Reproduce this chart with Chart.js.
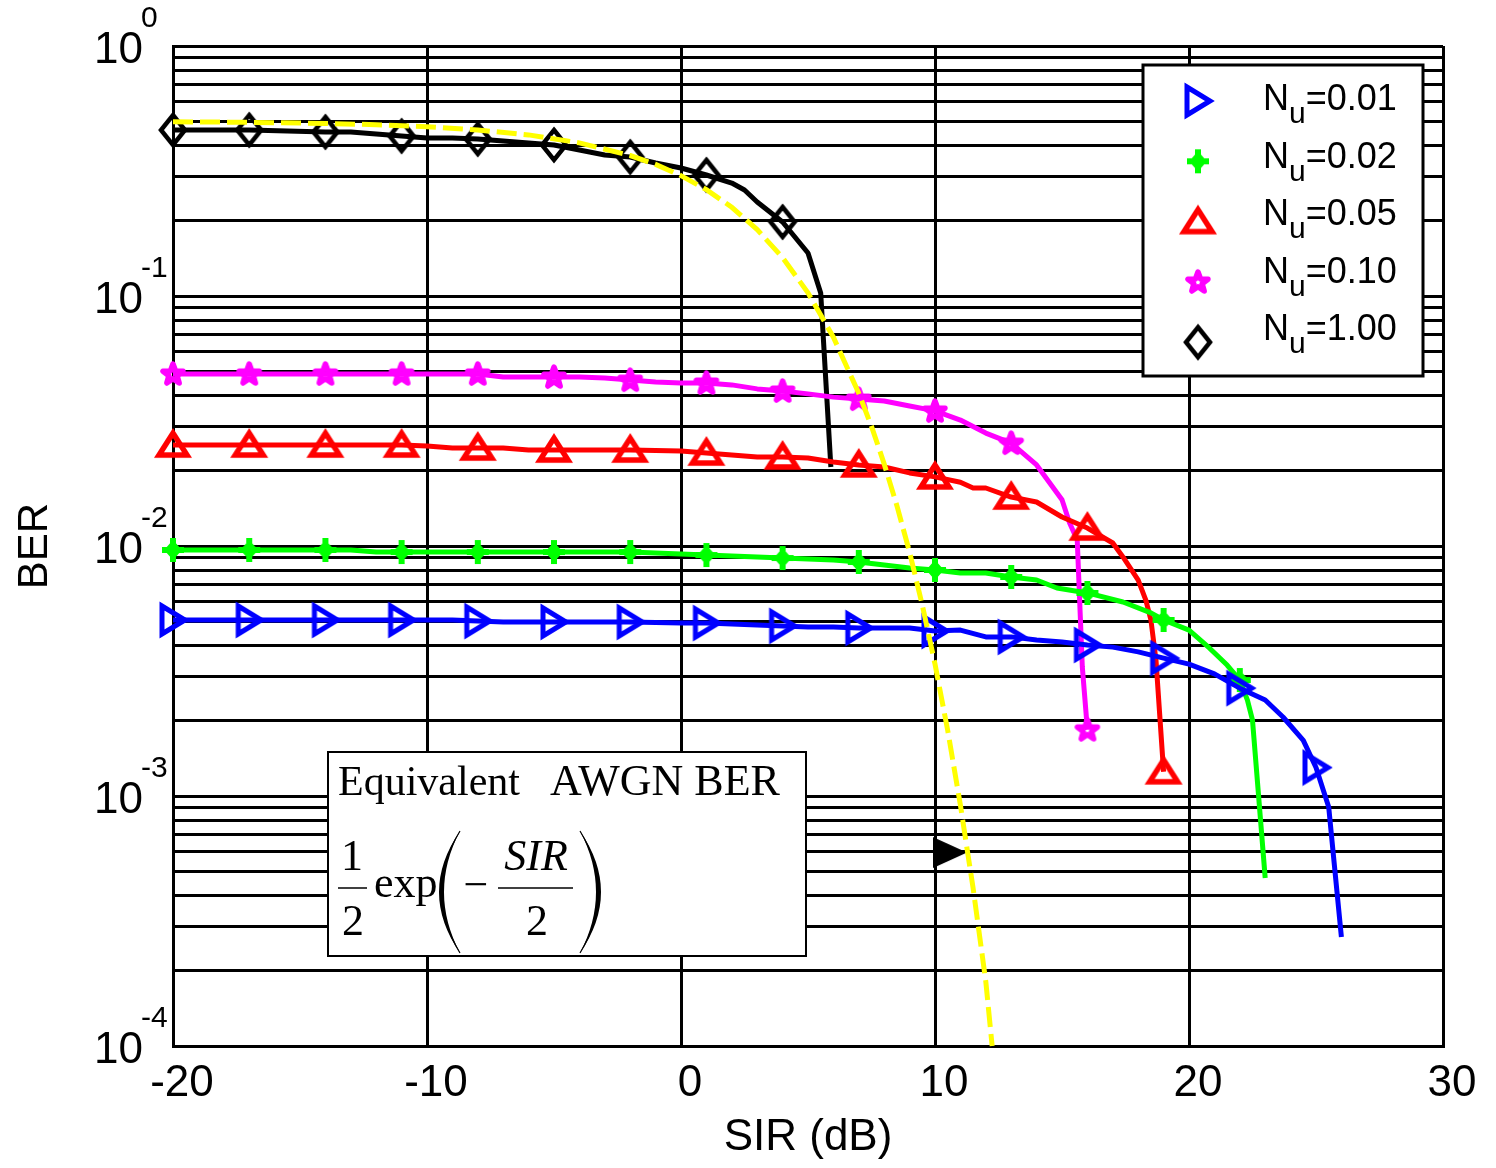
<!DOCTYPE html>
<html>
<head>
<meta charset="utf-8">
<script src="https://cdn.jsdelivr.net/npm/chart.js@4.4.1/dist/chart.umd.min.js"></script>
<style>
html,body{margin:0;padding:0;background:#fff;}
#wrap{width:1496px;height:1168px;position:relative;}
</style>
</head>
<body>
<div id="wrap"><canvas id="c" width="1496" height="1168"></canvas></div>
<script>
// ---------- data ----------
const snrNu001 = [-20,-17,-14,-11,-9,-8,-7,-5,-2,0,1,2,3,4,5,6,7,8,9,10,11,12,13,14,15,16,17,18,19,20,21,22,23,23.7,24.5,25,25.5,26];
const berNu001 = [0.00506,0.00506,0.00506,0.00506,0.00506,0.00501,0.00497,0.00497,0.00497,0.00492,0.00492,0.00488,0.00483,0.00479,0.00474,0.00474,0.0047,0.0047,0.0047,0.00457,0.00461,0.00433,0.00433,0.00421,0.00413,0.00402,0.00394,0.00377,0.00356,0.00337,0.00308,0.0027,0.00242,0.00207,0.00167,0.0013,0.000904,0.000273];

const snrNu002 = [-20,-17,-14,-13,-12,-11,-8,-5,-2,-1,0,1,2,3,4,5,6,7,8,9,10,11,12,13,14,14.8,16,17.4,18.5,19,20,20.8,21.5,22,22.3,22.5,23];
const berNu002 = [0.00964,0.00964,0.00964,0.00964,0.00946,0.00946,0.00946,0.00946,0.00946,0.00938,0.00929,0.0092,0.00912,0.00904,0.00895,0.00887,0.00879,0.00863,0.00839,0.00817,0.00802,0.0078,0.0078,0.00752,0.00731,0.00679,0.00649,0.00597,0.0054,0.00506,0.00461,0.00391,0.00334,0.00291,0.00242,0.00201,0.00047];

const snrNu005 = [-20,-17,-14,-11,-10,-9,-8,-7,-6,-5,-2,0,1,2,3,4,5,6,7,8,9,10,11,11.5,12,13,14,15,16,17,17.4,18,18.3,18.5,18.7,19];
const berNu005 = [0.02535,0.02535,0.02535,0.02535,0.0251,0.02466,0.02466,0.02466,0.0242,0.0242,0.0242,0.0240,0.02355,0.0231,0.0227,0.0227,0.0225,0.02168,0.0211,0.0207,0.0196,0.0189,0.0180,0.01706,0.01706,0.0157,0.0150,0.01306,0.0118,0.01028,0.00904,0.00731,0.00608,0.00506,0.0035,0.00125];

const snrNu010 = [-20,-17,-14,-11,-8,-7,-5,-4,-3,-2,-1,0,1,2,3,4,5,6,7,8,9,10,11,12,13,14,15,15.3,15.6,15.8,16];
const berNu010 = [0.0488,0.0488,0.0488,0.0488,0.0488,0.0474,0.0474,0.0474,0.0470,0.0461,0.0453,0.0449,0.0449,0.0441,0.0425,0.0417,0.0406,0.0394,0.0387,0.0380,0.0363,0.0347,0.0319,0.0283,0.0258,0.0211,0.0153,0.01236,0.01057,0.00328,0.00184];

const snrNu100 = [-20,-17,-14,-13,-12,-11,-10,-9,-8,-7,-6,-5,-4,-3,-2,-1,0,1,2,2.5,3,4,5,5.5,5.9];
const berNu100 = [0.4613,0.4613,0.4529,0.4529,0.4446,0.4365,0.4285,0.4285,0.4246,0.4169,0.4093,0.4018,0.3837,0.3664,0.3597,0.3404,0.3251,0.3048,0.2831,0.2655,0.2377,0.1977,0.1486,0.1028,0.0207];

const snrAwgn = [-20,-18,-16,-14,-12,-10,-8,-6,-4,-2,-1,0,1,2,3,4,5,6,7,7.5,8,8.5,9,9.5,10,10.5,11,11.5,12,12.25];
const berAwgn = [0.4975,0.496,0.4937,0.490,0.4844,0.4756,0.4612,0.441,0.4098,0.3647,0.336,0.303,0.2663,0.2264,0.1843,0.1424,0.103,0.0684,0.0408,0.0301,0.0213,0.0145,0.00944,0.0058,0.00337,0.00183,0.00092,0.000428,0.000181,0.0001];

const snrArrow = [10.59];
const berArrow = [0.000594];

const xTickValues = [-20,-10,0,10,20,30];
const yDecades = [1,0.1,0.01,0.001,0.0001];
const yDecadeExponents = ['0','-1','-2','-3','-4'];
const yMinorMultipliers = [1,2,3,4,5,6,7,8,9];
const legendValues = ['0.01','0.02','0.05','0.10','1.00'];

// ---------- marker images ----------
function mk(w,h,draw){const c=document.createElement('canvas');c.width=w;c.height=h;const g=c.getContext('2d');draw(g);return c;}
const mBlue = mk(36,40,g=>{g.strokeStyle='#0000ff';g.lineWidth=5;g.lineJoin='miter';g.beginPath();g.moveTo(7,6);g.lineTo(7,34);g.lineTo(30,20);g.closePath();g.stroke();});
const mGreen = mk(28,30,g=>{g.fillStyle='#00ff00';g.strokeStyle='#00ff00';g.lineWidth=6;g.beginPath();g.moveTo(3,15);g.lineTo(25,15);g.moveTo(14,3);g.lineTo(14,27);g.stroke();g.beginPath();g.moveTo(14,5);g.lineTo(23,15);g.lineTo(14,25);g.lineTo(5,15);g.closePath();g.fill();});
const mRed = mk(40,36,g=>{g.strokeStyle='#ff0000';g.lineWidth=5.5;g.lineJoin='miter';g.beginPath();g.moveTo(6,28);g.lineTo(34,28);g.lineTo(20,6);g.closePath();g.stroke();});
const mMag = mk(32,32,g=>{g.strokeStyle='#ff00ff';g.lineWidth=5.5;g.lineJoin='round';g.beginPath();for(let k=0;k<10;k++){const r=k%2?4.3:10.5;const a=-Math.PI/2+k*Math.PI/5;const px=16+r*Math.cos(a),py=16.5+r*Math.sin(a);k?g.lineTo(px,py):g.moveTo(px,py);}g.closePath();g.stroke();});
const mDia = mk(32,38,g=>{g.strokeStyle='#000';g.lineWidth=4.5;g.lineJoin='miter';g.beginPath();g.moveTo(16,4);g.lineTo(28,19);g.lineTo(16,34);g.lineTo(4,19);g.closePath();g.stroke();});
const mArrow = mk(36,33,g=>{g.fillStyle='#000';g.beginPath();g.moveTo(1,1);g.lineTo(1,32);g.lineTo(35,16.5);g.closePath();g.fill();});

const FONT = '"Liberation Sans", Arial, Helvetica, sans-serif';
const SERIF = '"Liberation Serif", "Times New Roman", Times, serif';

function markerRadius(c){const p=c.raw;if(!p)return 0;return Number.isInteger((p.x+20)/3)?10:0;}
function ds(label,xs,ys,color,marker,extra){
  return Object.assign({
    label, data: xs.map((x,i)=>({x, y: ys[i]})),
    borderColor: color, backgroundColor: color, borderWidth: 5,
    pointStyle: marker, pointRadius: markerRadius, pointHoverRadius: 0, pointBorderWidth: 0,
    tension: 0, borderJoinStyle: 'round', clip: {left: 22, top: 4, right: 4, bottom: 2}
  }, extra||{});
}

const datasets = [
  ds('AWGN', snrAwgn, berAwgn, '#ffff00', false, {borderDash:[20,7], pointRadius:0, borderJoinStyle:'miter'}),
  ds('arrow', snrArrow, berArrow, '#000', mArrow, {showLine:false, pointRadius:10}),
  ds('Nu=0.01', snrNu001, berNu001, '#0000ff', mBlue),
  ds('Nu=0.02', snrNu002, berNu002, '#00ff00', mGreen),
  ds('Nu=0.05', snrNu005, berNu005, '#ff0000', mRed),
  ds('Nu=0.10', snrNu010, berNu010, '#ff00ff', mMag),
  ds('Nu=1.00', snrNu100, berNu100, '#000000', mDia),
];

const overlay = {
  id: 'overlay',
  afterDraw(chart){
    const ctx = chart.ctx, ys = chart.scales.y;
    ctx.save();
    ctx.fillStyle = '#000';
    // y tick labels 10^n
    yDecades.forEach((v,i)=>{
      const py = ys.getPixelForValue(v);
      ctx.font = '44px ' + FONT; ctx.textAlign = 'right'; ctx.textBaseline = 'alphabetic';
      ctx.fillText('10', 143, py + 17);
      ctx.font = '30px ' + FONT; ctx.textAlign = 'left';
      ctx.fillText(yDecadeExponents[i], 141, py - 19);
    });
    // legend box
    const markers = [mBlue, mGreen, mRed, mMag, mDia];
    ctx.fillStyle = '#fff'; ctx.fillRect(1143, 65, 280, 311);
    ctx.lineWidth = 3; ctx.strokeStyle = '#000'; ctx.strokeRect(1143, 65, 280, 311);
    legendValues.forEach((val,i)=>{
      const m = markers[i];
      const my = 101 + 60.3*i, by = 110 + 57.5*i;
      ctx.drawImage(m, 1198 - m.width/2, my - m.height/2);
      ctx.fillStyle = '#000'; ctx.textAlign = 'left'; ctx.textBaseline = 'alphabetic';
      ctx.font = '36px ' + FONT;
      let x = 1263;
      ctx.fillText('N', x, by); x += ctx.measureText('N').width;
      ctx.font = '30px ' + FONT;
      ctx.fillText('u', x, by + 13); x += ctx.measureText('u').width;
      ctx.font = '36px ' + FONT;
      ctx.fillText('=' + val, x, by);
    });
    // formula box
    ctx.fillStyle = '#fff'; ctx.fillRect(328, 752, 478, 204);
    ctx.lineWidth = 2; ctx.strokeStyle = '#000'; ctx.strokeRect(328, 752, 478, 204);
    ctx.fillStyle = '#000'; ctx.textAlign = 'left';
    ctx.font = '42px ' + SERIF;
    ctx.fillText('Equivalent', 338, 795);
    ctx.font = '44px ' + SERIF;
    ctx.fillText('AWGN BER', 550, 795);
    ctx.textAlign = 'center';
    ctx.fillText('1', 352, 870); ctx.fillText('2', 353, 935);
    ctx.lineWidth = 1.5;
    ctx.beginPath(); ctx.moveTo(338, 888); ctx.lineTo(367, 888); ctx.stroke();
    ctx.textAlign = 'left'; ctx.fillText('exp', 374, 897);
    ctx.textAlign = 'center'; ctx.fillText('\u2212', 476, 899);
    ctx.font = 'italic 44px ' + SERIF; ctx.fillText('SIR', 536, 870);
    ctx.font = '44px ' + SERIF; ctx.fillText('2', 537, 935);
    ctx.beginPath(); ctx.moveTo(498, 888); ctx.lineTo(573, 888); ctx.stroke();
    // big parentheses
    ctx.beginPath(); ctx.moveTo(460, 831); ctx.quadraticCurveTo(418, 892, 460, 953); ctx.quadraticCurveTo(428, 892, 460, 831); ctx.fill();
    ctx.lineWidth = 1.2; ctx.beginPath(); ctx.moveTo(460, 831); ctx.quadraticCurveTo(423, 892, 460, 953); ctx.stroke();
    ctx.beginPath(); ctx.moveTo(580, 831); ctx.quadraticCurveTo(622, 892, 580, 953); ctx.quadraticCurveTo(612, 892, 580, 831); ctx.fill();
    ctx.beginPath(); ctx.moveTo(580, 831); ctx.quadraticCurveTo(617, 892, 580, 953); ctx.stroke();
    ctx.restore();
  }
};

new Chart(document.getElementById('c'), {
  type: 'line',
  data: { datasets },
  options: {
    responsive: false, animation: false, devicePixelRatio: 1, events: [],
    layout: { padding: { left: 0, top: 46, right: 53, bottom: 0 } },
    plugins: { legend: { display: false }, tooltip: { enabled: false } },
    scales: {
      x: {
        type: 'linear', min: -20, max: 30,
        afterBuildTicks: s => { s.ticks = xTickValues.map(v => ({value: v})); },
        afterFit: s => { s.height = 122; },
        ticks: { autoSkip: false, maxRotation: 0, padding: 11, labelOffset: 9, color: '#000',
                 font: { size: 44, family: FONT }, callback: v => String(v) },
        grid: { color: '#000', lineWidth: 3, drawTicks: false },
        border: { display: true, color: '#000', width: 3 },
        title: { display: true, text: 'SIR (dB)', color: '#000', font: { size: 44, family: FONT }, padding: { top: 0, bottom: 4 } }
      },
      y: {
        type: 'logarithmic', min: 0.0001, max: 1,
        afterBuildTicks: s => {
          const t = [];
          yDecades.slice(1).forEach(d => yMinorMultipliers.forEach(m => t.push({value: d*m})));
          t.push({value: 1});
          s.ticks = t;
        },
        afterFit: s => { s.width = 173; },
        ticks: { display: false },
        grid: { color: '#000', lineWidth: 3, drawTicks: false },
        border: { display: true, color: '#000', width: 3 },
        title: { display: true, text: 'BER', color: '#000', font: { size: 42, family: FONT }, padding: { top: 10, bottom: 0 } }
      }
    }
  },
  plugins: [overlay]
});
</script>
</body>
</html>
